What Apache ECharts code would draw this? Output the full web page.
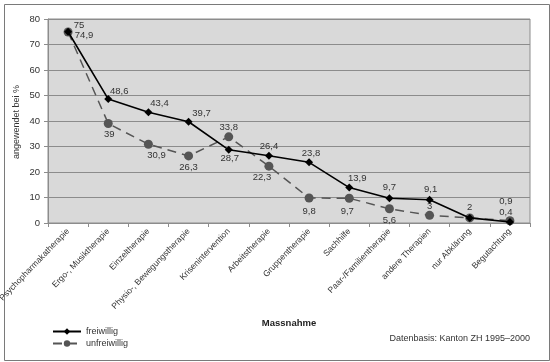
<!DOCTYPE html>
<html><head><meta charset="utf-8">
<script src="https://cdn.jsdelivr.net/npm/echarts@6/dist/echarts.min.js"></script>
<style>html,body{margin:0;padding:0;background:#fff}#c{width:550px;height:362px}</style>
</head><body><div id="c"></div>
<script>
const categories = ["Psychopharmakatherapie","Ergo-, Musiktherapie","Einzeltherapie","Physio-, Bewegungstherapie","Krisenintervention","Arbeitstherapie","Gruppentherapie","Sachhilfe","Paar-/Familientherapie","andere Therapien","nur Abklärung","Begutachtung"];
const freiwillig = [75, 48.6, 43.4, 39.7, 28.7, 26.4, 23.8, 13.9, 9.7, 9.1, 2, 0.4];
const unfreiwillig = [74.9, 39, 30.9, 26.3, 33.8, 22.3, 9.8, 9.7, 5.6, 3, 2, 0.9];
const yTicks = [0,10,20,30,40,50,60,70,80];

// label placement (style only)
const fOffsets = [[11,-6],[11,-8],[11,-9],[13,-8],[1,9],[0,-9],[2,-9],[8,-9],[0,-11],[1,-10],[0,-11],[-4,-10]];
const uOffsets = [[16,3],[1,11],[8,11],[0,11],[0,-9],[-7,11],[0,13],[-2,13],[0,12],[0,-9],[0,0],[-4,-19]];
const uHidden = [10];

const fmt = v => String(v).replace('.', ',');
const FF = 'Liberation Sans, Arial, sans-serif';
const labelFont = {fontFamily:FF, fontSize:9.5, color:'#333'};

function mk(vals, offs, hidden){
  return vals.map((v,i)=>({value:v, label:{show: !(hidden||[]).includes(i), position:'inside', offset:offs[i], align:'center', verticalAlign:'middle'}}));
}

const chart = echarts.init(document.getElementById('c'), null, {renderer:'canvas'});
chart.setOption({
  animation:false,
  backgroundColor:'#fff',
  textStyle:{fontFamily:FF},
  grid:{left:48, right:20, top:19, bottom:139, containLabel:false, outerBoundsMode:'none', show:true, backgroundColor:'#d9d9d9', borderColor:'#8c8c8c', borderWidth:1},
  xAxis:{
    type:'category', data:categories, boundaryGap:true,
    name:'Massnahme', nameLocation:'middle', nameGap:80,
    nameTextStyle:{fontWeight:'bold', fontSize:9.5, color:'#222'},
    axisLine:{lineStyle:{color:'#8c8c8c'}},
    axisTick:{show:true, length:4, lineStyle:{color:'#8c8c8c'}},
    axisLabel:{rotate:46, fontSize:8.5, color:'#333', margin:7, interval:0}
  },
  yAxis:{
    type:'value', min:yTicks[0], max:yTicks[yTicks.length-1], interval:10,
    axisLine:{show:true, lineStyle:{color:'#8c8c8c'}},
    axisTick:{show:true, length:4, lineStyle:{color:'#8c8c8c'}},
    axisLabel:{fontSize:9.5, color:'#333', margin:8},
    splitLine:{lineStyle:{color:'#8c8c8c', width:1}}
  },
  legend:{
    orient:'vertical', left:47, top:322, itemWidth:28, itemHeight:8, itemGap:3,
    textStyle:{fontSize:9, color:'#333'},
    data:['freiwillig','unfreiwillig']
  },
  graphic:[
    {type:'rect', left:2, top:2, shape:{width:545, height:356}, style:{fill:'none', stroke:'#7a7a7a', lineWidth:1}, silent:true},
    {type:'text', x:17, y:122, rotation:Math.PI/2, style:{text:'angewendet bei %', fontSize:9, fill:'#333', align:'center', verticalAlign:'middle', fontFamily:FF}},
    {type:'text', right:20, top:334, style:{text:'Datenbasis: Kanton ZH 1995–2000', fontSize:9, fill:'#333', fontFamily:FF}}
  ],
  series:[
    {name:'freiwillig', type:'line', data:mk(freiwillig, fOffsets), symbol:'diamond', symbolSize:8,
     lineStyle:{color:'#000', width:1.6}, itemStyle:{color:'#000'}, label:Object.assign({formatter:p=>fmt(p.value)}, labelFont), z:3},
    {name:'unfreiwillig', type:'line', data:mk(unfreiwillig, uOffsets, uHidden), symbol:'circle', symbolSize:9,
     lineStyle:{color:'#555', width:1.5, type:[9,6]}, itemStyle:{color:'#555'}, label:Object.assign({formatter:p=>fmt(p.value)}, labelFont), z:2}
  ]
});
</script></body></html>
